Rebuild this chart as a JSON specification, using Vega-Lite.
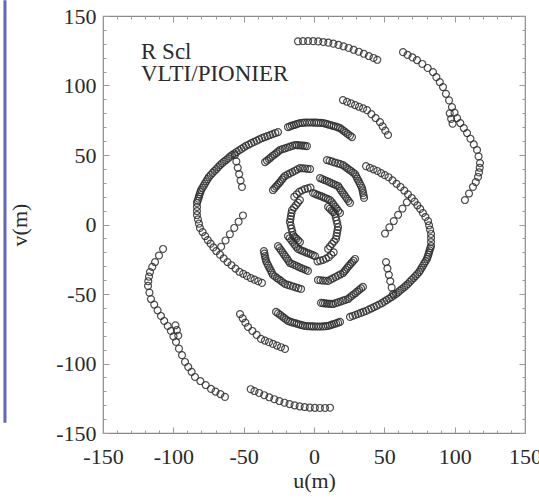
{
  "$schema": "https://vega.github.io/schema/vega-lite/v6.json",
  "width": 422,
  "height": 417,
  "autosize": {"type": "none"},
  "padding": {"left": 103, "top": 16, "right": 14, "bottom": 65},
  "background": "white",
  "title": {"text": ["R Scl", "VLTI/PIONIER"], "anchor": "start", "frame": "group", "orient": "top", "offset": -87, "dx": 38, "font": "Liberation Serif", "fontSize": 23, "fontWeight": "normal", "color": "#2a2a2a", "lineHeight": 22},
  "config": {
    "view": {"stroke": "#8a8a8a", "strokeWidth": 1.2},
    "font": "Liberation Serif",
    "axis": {
      "domain": false, "grid": false,
      "labelFont": "Liberation Serif", "titleFont": "Liberation Serif",
      "labelFontSize": 22, "titleFontSize": 22,
      "labelColor": "#2a2a2a", "titleColor": "#2a2a2a",
      "titleFontWeight": "normal",
      "tickColor": "#9a9a9a", "tickWidth": 1,
      "labelFlush": false, "labelOverlap": false
    }
  },
  "datasets": {
    "uv": [
      {"u":-11.4,"v":131.8},{"u":-7.8,"v":132},{"u":-4.2,"v":132},{"u":-0.6,"v":131.9},{"u":3,"v":131.7},{"u":6.6,"v":131.3},{"u":10.2,"v":130.8},{"u":13.8,"v":130.1},{"u":17.4,"v":129.2},{"u":21,"v":128.2},{"u":24.6,"v":127},{"u":28.2,"v":125.7},{"u":31.8,"v":124.3},{"u":35.4,"v":122.8},{"u":39,"v":121.2},{"u":42.3,"v":119.8},{"u":45,"v":118.5},
      {"u":11.4,"v":-131.8},{"u":7.8,"v":-132},{"u":4.2,"v":-132},{"u":0.6,"v":-131.9},{"u":-3,"v":-131.7},{"u":-6.6,"v":-131.3},{"u":-10.2,"v":-130.8},{"u":-13.8,"v":-130.1},{"u":-17.4,"v":-129.2},{"u":-21,"v":-128.2},{"u":-24.6,"v":-127},{"u":-28.2,"v":-125.7},{"u":-31.8,"v":-124.3},{"u":-35.4,"v":-122.8},{"u":-39,"v":-121.2},{"u":-42.3,"v":-119.8},{"u":-45,"v":-118.5},
      {"u":63.3,"v":124},{"u":66.5,"v":122},{"u":70,"v":120.2},{"u":73.2,"v":118.3},{"u":77,"v":115.5},{"u":80.8,"v":112.6},{"u":84.6,"v":109.7},{"u":87,"v":106},{"u":89.4,"v":102.5},{"u":91.7,"v":98.9},{"u":93.8,"v":94},{"u":96,"v":89.3},{"u":98.1,"v":84.5},{"u":99.9,"v":80.5},{"u":101.7,"v":76.6},{"u":104,"v":73},{"u":106.5,"v":69.4},{"u":108.8,"v":65.8},{"u":111.2,"v":61.7},{"u":113.6,"v":57.6},{"u":115.9,"v":53.6},{"u":117,"v":49},{"u":118,"v":44.2},{"u":117.8,"v":40.8},{"u":117.3,"v":37.5},{"u":116.6,"v":34.2},{"u":115,"v":30.5},{"u":113,"v":27},{"u":110.2,"v":22.3},{"u":107.3,"v":17.6},{"u":96.5,"v":80},{"u":97.5,"v":76},{"u":98.5,"v":72.5},
      {"u":-63.3,"v":-124},{"u":-66.5,"v":-122},{"u":-70,"v":-120.2},{"u":-73.2,"v":-118.3},{"u":-77,"v":-115.5},{"u":-80.8,"v":-112.6},{"u":-84.6,"v":-109.7},{"u":-87,"v":-106},{"u":-89.4,"v":-102.5},{"u":-91.7,"v":-98.9},{"u":-93.8,"v":-94},{"u":-96,"v":-89.3},{"u":-98.1,"v":-84.5},{"u":-99.9,"v":-80.5},{"u":-101.7,"v":-76.6},{"u":-104,"v":-73},{"u":-106.5,"v":-69.4},{"u":-108.8,"v":-65.8},{"u":-111.2,"v":-61.7},{"u":-113.6,"v":-57.6},{"u":-115.9,"v":-53.6},{"u":-117,"v":-49},{"u":-118,"v":-44.2},{"u":-117.8,"v":-40.8},{"u":-117.3,"v":-37.5},{"u":-116.6,"v":-34.2},{"u":-115,"v":-30.5},{"u":-113,"v":-27},{"u":-110.2,"v":-22.3},{"u":-107.3,"v":-17.6},{"u":-96.5,"v":-80},{"u":-97.5,"v":-76},{"u":-98.5,"v":-72.5},
      {"u":-25.6,"v":66.5},{"u":-29.4,"v":65.1},{"u":-33.2,"v":63.6},{"u":-37,"v":62.2},{"u":-40.8,"v":60.3},{"u":-44.5,"v":58.5},{"u":-48.3,"v":56.6},{"u":-51.6,"v":54.4},{"u":-55,"v":52.2},{"u":-58.3,"v":50},{"u":-61.1,"v":47.6},{"u":-64,"v":45.2},{"u":-66.8,"v":42.8},{"u":-69.4,"v":39.9},{"u":-72.1,"v":37.1},{"u":-74.7,"v":34.2},{"u":-76.6,"v":31.1},{"u":-78.4,"v":27.9},{"u":-80.3,"v":24.8},{"u":-81.3,"v":21.7},{"u":-82.2,"v":18.6},{"u":-83.2,"v":15.5},{"u":-83.2,"v":12.6},{"u":-83.2,"v":9.7},{"u":-83.2,"v":6.8},{"u":-82.5,"v":3.7},{"u":-81.8,"v":0.6},{"u":-81.1,"v":-2.5},{"u":-79.2,"v":-5.4},{"u":-77.4,"v":-8.3},{"u":-75.5,"v":-11.2},{"u":-73.5,"v":-13.8},{"u":-71.5,"v":-16.5},{"u":-69.5,"v":-19.1},{"u":-66.8,"v":-21.7},{"u":-64.2,"v":-24.4},{"u":-61.5,"v":-27},{"u":-58.7,"v":-29.3},{"u":-55.8,"v":-31.7},{"u":-53,"v":-34},{"u":-50.3,"v":-35.5},{"u":-47.7,"v":-37},{"u":-45,"v":-38.5},{"u":-42.3,"v":-39.7},{"u":-39.7,"v":-40.8},{"u":-37,"v":-42},
      {"u":-27.5,"v":65.8},{"u":-31.3,"v":64.35},{"u":-35.1,"v":62.9},{"u":-38.9,"v":61.25},{"u":-42.65,"v":59.4},{"u":-46.4,"v":57.55},{"u":-49.95,"v":55.5},{"u":-53.3,"v":53.3},{"u":-56.65,"v":51.1},{"u":-59.7,"v":48.8},{"u":-62.55,"v":46.4},{"u":-65.4,"v":44},{"u":-68.1,"v":41.35},{"u":-70.75,"v":38.5},{"u":-73.4,"v":35.65},{"u":-75.65,"v":32.65},{"u":-77.5,"v":29.5},{"u":-79.35,"v":26.35},{"u":-80.8,"v":23.25},{"u":-81.75,"v":20.15},{"u":-82.7,"v":17.05},
      {"u":25.6,"v":-66.5},{"u":29.4,"v":-65.1},{"u":33.2,"v":-63.6},{"u":37,"v":-62.2},{"u":40.8,"v":-60.3},{"u":44.5,"v":-58.5},{"u":48.3,"v":-56.6},{"u":51.6,"v":-54.4},{"u":55,"v":-52.2},{"u":58.3,"v":-50},{"u":61.1,"v":-47.6},{"u":64,"v":-45.2},{"u":66.8,"v":-42.8},{"u":69.4,"v":-39.9},{"u":72.1,"v":-37.1},{"u":74.7,"v":-34.2},{"u":76.6,"v":-31.1},{"u":78.4,"v":-27.9},{"u":80.3,"v":-24.8},{"u":81.3,"v":-21.7},{"u":82.2,"v":-18.6},{"u":83.2,"v":-15.5},{"u":83.2,"v":-12.6},{"u":83.2,"v":-9.7},{"u":83.2,"v":-6.8},{"u":82.5,"v":-3.7},{"u":81.8,"v":-0.6},{"u":81.1,"v":2.5},{"u":79.2,"v":5.4},{"u":77.4,"v":8.3},{"u":75.5,"v":11.2},{"u":73.5,"v":13.8},{"u":71.5,"v":16.5},{"u":69.5,"v":19.1},{"u":66.8,"v":21.7},{"u":64.2,"v":24.4},{"u":61.5,"v":27},{"u":58.7,"v":29.3},{"u":55.8,"v":31.7},{"u":53,"v":34},{"u":50.3,"v":35.5},{"u":47.7,"v":37},{"u":45,"v":38.5},{"u":42.3,"v":39.7},{"u":39.7,"v":40.8},{"u":37,"v":42},
      {"u":27.5,"v":-65.8},{"u":31.3,"v":-64.35},{"u":35.1,"v":-62.9},{"u":38.9,"v":-61.25},{"u":42.65,"v":-59.4},{"u":46.4,"v":-57.55},{"u":49.95,"v":-55.5},{"u":53.3,"v":-53.3},{"u":56.65,"v":-51.1},{"u":59.7,"v":-48.8},{"u":62.55,"v":-46.4},{"u":65.4,"v":-44},{"u":68.1,"v":-41.35},{"u":70.75,"v":-38.5},{"u":73.4,"v":-35.65},{"u":75.65,"v":-32.65},{"u":77.5,"v":-29.5},{"u":79.35,"v":-26.35},{"u":80.8,"v":-23.25},{"u":81.75,"v":-20.15},{"u":82.7,"v":-17.05},
      {"u":-56.2,"v":50},{"u":-55.2,"v":45.4},{"u":-54.2,"v":40.8},{"u":-53.2,"v":36.2},{"u":-52.2,"v":31.6},{"u":-51.2,"v":27},
      {"u":56.2,"v":-50},{"u":55.2,"v":-45.4},{"u":54.2,"v":-40.8},{"u":53.2,"v":-36.2},{"u":52.2,"v":-31.6},{"u":51.2,"v":-27},
      {"u":-50.5,"v":6.5},{"u":-53.6,"v":2},{"u":-56.7,"v":-2.5},{"u":-59.8,"v":-7},{"u":-62.9,"v":-11.5},{"u":-66,"v":-16},
      {"u":50.5,"v":-6.5},{"u":53.6,"v":-2},{"u":56.7,"v":2.5},{"u":59.8,"v":7},{"u":62.9,"v":11.5},{"u":66,"v":16},
      {"u":20.6,"v":89.5},{"u":23.5,"v":88.3},{"u":26.3,"v":87.1},{"u":29.2,"v":85.9},{"u":32,"v":84.7},{"u":34.9,"v":83.5},{"u":37.7,"v":82.3},{"u":40.8,"v":79.4},{"u":43.8,"v":76.6},{"u":46.9,"v":73.7},{"u":48.8,"v":70.6},{"u":50.7,"v":67.5},{"u":52.6,"v":64.4},
      {"u":-20.6,"v":-89.5},{"u":-23.5,"v":-88.3},{"u":-26.3,"v":-87.1},{"u":-29.2,"v":-85.9},{"u":-32,"v":-84.7},{"u":-34.9,"v":-83.5},{"u":-37.7,"v":-82.3},{"u":-40.8,"v":-79.4},{"u":-43.8,"v":-76.6},{"u":-46.9,"v":-73.7},{"u":-48.8,"v":-70.6},{"u":-50.7,"v":-67.5},{"u":-52.6,"v":-64.4},
      {"u":-18.5,"v":70.1},{"u":-15.7,"v":71.1},{"u":-12.8,"v":72},{"u":-10,"v":73},{"u":-6.6,"v":73.3},{"u":-3.2,"v":73.4},{"u":0.2,"v":73.3},{"u":3.3,"v":73.2},{"u":6.4,"v":73},{"u":9.4,"v":72.2},{"u":12.4,"v":71.3},{"u":15.5,"v":70.4},{"u":18.5,"v":69.4},{"u":21.3,"v":67.2},{"u":24.1,"v":65},{"u":27,"v":62.9},
      {"u":-17.1,"v":70.6},{"u":-14.25,"v":71.55},{"u":-11.4,"v":72.5},{"u":-8.3,"v":73.15},{"u":-4.9,"v":73.35},{"u":-1.5,"v":73.35},{"u":1.75,"v":73.25},{"u":4.85,"v":73.1},{"u":7.9,"v":72.6},{"u":10.9,"v":71.75},{"u":13.95,"v":70.85},{"u":17,"v":69.9},{"u":19.9,"v":68.3},{"u":22.7,"v":66.1},{"u":25.55,"v":63.95},
      {"u":18.5,"v":-70.1},{"u":15.7,"v":-71.1},{"u":12.8,"v":-72},{"u":10,"v":-73},{"u":6.6,"v":-73.3},{"u":3.2,"v":-73.4},{"u":-0.2,"v":-73.3},{"u":-3.3,"v":-73.2},{"u":-6.4,"v":-73},{"u":-9.4,"v":-72.2},{"u":-12.4,"v":-71.3},{"u":-15.5,"v":-70.4},{"u":-18.5,"v":-69.4},{"u":-21.3,"v":-67.2},{"u":-24.1,"v":-65},{"u":-27,"v":-62.9},
      {"u":17.1,"v":-70.6},{"u":14.25,"v":-71.55},{"u":11.4,"v":-72.5},{"u":8.3,"v":-73.15},{"u":4.9,"v":-73.35},{"u":1.5,"v":-73.35},{"u":-1.75,"v":-73.25},{"u":-4.85,"v":-73.1},{"u":-7.9,"v":-72.6},{"u":-10.9,"v":-71.75},{"u":-13.95,"v":-70.85},{"u":-17,"v":-69.9},{"u":-19.9,"v":-68.3},{"u":-22.7,"v":-66.1},{"u":-25.55,"v":-63.95},
      {"u":-34.8,"v":44.9},{"u":-32.1,"v":47.1},{"u":-29.5,"v":49.3},{"u":-26.8,"v":51.4},{"u":-24.2,"v":53.6},{"u":-20.6,"v":54.8},{"u":-17.1,"v":56},{"u":-13.5,"v":57.2},{"u":-10.7,"v":57},{"u":-7.8,"v":56.7},{"u":-5,"v":56.4},
      {"u":-33.45,"v":46},{"u":-30.8,"v":48.2},{"u":-28.15,"v":50.35},{"u":-25.5,"v":52.5},{"u":-22.4,"v":54.2},{"u":-18.85,"v":55.4},{"u":-15.3,"v":56.6},{"u":-12.1,"v":57.1},{"u":-9.25,"v":56.85},{"u":-6.4,"v":56.55},
      {"u":34.8,"v":-44.9},{"u":32.1,"v":-47.1},{"u":29.5,"v":-49.3},{"u":26.8,"v":-51.4},{"u":24.2,"v":-53.6},{"u":20.6,"v":-54.8},{"u":17.1,"v":-56},{"u":13.5,"v":-57.2},{"u":10.7,"v":-57},{"u":7.8,"v":-56.7},{"u":5,"v":-56.4},
      {"u":33.45,"v":-46},{"u":30.8,"v":-48.2},{"u":28.15,"v":-50.35},{"u":25.5,"v":-52.5},{"u":22.4,"v":-54.2},{"u":18.85,"v":-55.4},{"u":15.3,"v":-56.6},{"u":12.1,"v":-57.1},{"u":9.25,"v":-56.85},{"u":6.4,"v":-56.55},
      {"u":-29.2,"v":24.8},{"u":-27,"v":27.3},{"u":-24.8,"v":29.8},{"u":-22.7,"v":32.4},{"u":-20.6,"v":34.9},{"u":-17.1,"v":36.8},{"u":-13.5,"v":38.7},{"u":-10,"v":40.6},{"u":-6.4,"v":40.3},{"u":-2.8,"v":39.9},
      {"u":-28.1,"v":26.05},{"u":-25.9,"v":28.55},{"u":-23.75,"v":31.1},{"u":-21.65,"v":33.65},{"u":-18.85,"v":35.85},{"u":-15.3,"v":37.75},{"u":-11.75,"v":39.65},{"u":-8.2,"v":40.45},{"u":-4.6,"v":40.1},
      {"u":29.2,"v":-24.8},{"u":27,"v":-27.3},{"u":24.8,"v":-29.8},{"u":22.7,"v":-32.4},{"u":20.6,"v":-34.9},{"u":17.1,"v":-36.8},{"u":13.5,"v":-38.7},{"u":10,"v":-40.6},{"u":6.4,"v":-40.3},{"u":2.8,"v":-39.9},
      {"u":28.1,"v":-26.05},{"u":25.9,"v":-28.55},{"u":23.75,"v":-31.1},{"u":21.65,"v":-33.65},{"u":18.85,"v":-35.85},{"u":15.3,"v":-37.75},{"u":11.75,"v":-39.65},{"u":8.2,"v":-40.45},{"u":4.6,"v":-40.1},
      {"u":9.2,"v":46.4},{"u":13,"v":45.2},{"u":16.8,"v":44},{"u":20.6,"v":42.8},{"u":23.5,"v":40.6},{"u":26.3,"v":38.5},{"u":29.2,"v":36.3},{"u":30.8,"v":33},{"u":32.5,"v":29.6},{"u":34.1,"v":26.3},{"u":34.9,"v":22.7},{"u":35.6,"v":19.1},
      {"u":11.1,"v":45.8},{"u":14.9,"v":44.6},{"u":18.7,"v":43.4},{"u":22.05,"v":41.7},{"u":24.9,"v":39.55},{"u":27.75,"v":37.4},{"u":30,"v":34.65},{"u":31.65,"v":31.3},{"u":33.3,"v":27.95},{"u":34.5,"v":24.5},{"u":35.25,"v":20.9},
      {"u":-9.2,"v":-46.4},{"u":-13,"v":-45.2},{"u":-16.8,"v":-44},{"u":-20.6,"v":-42.8},{"u":-23.5,"v":-40.6},{"u":-26.3,"v":-38.5},{"u":-29.2,"v":-36.3},{"u":-30.8,"v":-33},{"u":-32.5,"v":-29.6},{"u":-34.1,"v":-26.3},{"u":-34.9,"v":-22.7},{"u":-35.6,"v":-19.1},
      {"u":-11.1,"v":-45.8},{"u":-14.9,"v":-44.6},{"u":-18.7,"v":-43.4},{"u":-22.05,"v":-41.7},{"u":-24.9,"v":-39.55},{"u":-27.75,"v":-37.4},{"u":-30,"v":-34.65},{"u":-31.65,"v":-31.3},{"u":-33.3,"v":-27.95},{"u":-34.5,"v":-24.5},{"u":-35.25,"v":-20.9},
      {"u":4.3,"v":33.4},{"u":7.5,"v":32},{"u":10.7,"v":30.6},{"u":13.9,"v":29.1},{"u":17.1,"v":27.7},{"u":19.2,"v":24.6},{"u":21.3,"v":21.6},{"u":23.5,"v":18.5},{"u":25.6,"v":15.5},
      {"u":5.9,"v":32.7},{"u":9.1,"v":31.3},{"u":12.3,"v":29.85},{"u":15.5,"v":28.4},{"u":18.15,"v":26.15},{"u":20.25,"v":23.1},{"u":22.4,"v":20.05},{"u":24.55,"v":17},
      {"u":-4.3,"v":-33.4},{"u":-7.5,"v":-32},{"u":-10.7,"v":-30.6},{"u":-13.9,"v":-29.1},{"u":-17.1,"v":-27.7},{"u":-19.2,"v":-24.6},{"u":-21.3,"v":-21.6},{"u":-23.5,"v":-18.5},{"u":-25.6,"v":-15.5},
      {"u":-5.9,"v":-32.7},{"u":-9.1,"v":-31.3},{"u":-12.3,"v":-29.85},{"u":-15.5,"v":-28.4},{"u":-18.15,"v":-26.15},{"u":-20.25,"v":-23.1},{"u":-22.4,"v":-20.05},{"u":-24.55,"v":-17},
      {"u":-0.7,"v":22.7},{"u":2.3,"v":21.4},{"u":5.4,"v":20.2},{"u":8.4,"v":18.9},{"u":11.4,"v":17.6},{"u":13.8,"v":14.5},{"u":16.1,"v":11.4},{"u":18.5,"v":8.3},
      {"u":0.8,"v":22.05},{"u":3.85,"v":20.8},{"u":6.9,"v":19.55},{"u":9.9,"v":18.25},{"u":12.6,"v":16.05},{"u":14.95,"v":12.95},{"u":17.3,"v":9.85},
      {"u":0.7,"v":-22.7},{"u":-2.3,"v":-21.4},{"u":-5.4,"v":-20.2},{"u":-8.4,"v":-18.9},{"u":-11.4,"v":-17.6},{"u":-13.8,"v":-14.5},{"u":-16.1,"v":-11.4},{"u":-18.5,"v":-8.3},
      {"u":-0.8,"v":-22.05},{"u":-3.85,"v":-20.8},{"u":-6.9,"v":-19.55},{"u":-9.9,"v":-18.25},{"u":-12.6,"v":-16.05},{"u":-14.95,"v":-12.95},{"u":-17.3,"v":-9.85},
      {"u":-10,"v":17.6},{"u":-12.8,"v":14},{"u":-15.6,"v":10.4},{"u":-16.4,"v":6.1},{"u":-17.1,"v":1.8},{"u":-16,"v":-2.9},{"u":-14.9,"v":-7.6},{"u":-12.5,"v":-10.1},{"u":-10,"v":-12.6},
      {"u":-11.4,"v":15.8},{"u":-14.2,"v":12.2},{"u":-16,"v":8.25},{"u":-16.75,"v":3.95},{"u":-16.55,"v":-0.55},{"u":-15.45,"v":-5.25},{"u":-13.7,"v":-8.85},{"u":-11.25,"v":-11.35},
      {"u":10,"v":-17.6},{"u":12.8,"v":-14},{"u":15.6,"v":-10.4},{"u":16.4,"v":-6.1},{"u":17.1,"v":-1.8},{"u":16,"v":2.9},{"u":14.9,"v":7.6},{"u":12.5,"v":10.1},{"u":10,"v":12.6},
      {"u":11.4,"v":-15.8},{"u":14.2,"v":-12.2},{"u":16,"v":-8.25},{"u":16.75,"v":-3.95},{"u":16.55,"v":0.55},{"u":15.45,"v":5.25},{"u":13.7,"v":8.85},{"u":11.25,"v":11.35},
      {"u":-14,"v":20},{"u":-10.5,"v":23.5},{"u":-6.5,"v":25.5},{"u":-2.5,"v":26.5},{"u":-12.25,"v":21.75},{"u":-8.5,"v":24.5},{"u":-4.5,"v":26},
      {"u":14,"v":-20},{"u":10.5,"v":-23.5},{"u":6.5,"v":-25.5},{"u":2.5,"v":-26.5},{"u":12.25,"v":-21.75},{"u":8.5,"v":-24.5},{"u":4.5,"v":-26}
    ],
    "anchor": [{"u": 0, "v": 0}]
  },
  "layer": [
    {
      "data": {"name": "uv"},
      "mark": {"type": "point", "shape": "circle", "filled": false, "size": 48, "stroke": "#2e2e2e", "strokeWidth": 1.2, "opacity": 0.85},
      "encoding": {
        "x": {"field": "u", "type": "quantitative", "scale": {"domain": [-150, 150], "nice": false, "zero": false},
              "axis": {"orient": "bottom", "values": [-150, -100, -50, 0, 50, 100, 150], "tickSize": -6, "labelPadding": 19, "title": "u(m)", "titlePadding": 3,
                       "labelExpr": "(datum.value < 0 ? '-' : '') + abs(datum.value)"}},
        "y": {"field": "v", "type": "quantitative", "scale": {"domain": [-150, 150], "nice": false, "zero": false},
              "axis": {"orient": "left", "values": [-150, -100, -50, 0, 50, 100, 150], "tickSize": -6, "labelPadding": 13, "title": "v(m)", "titlePadding": 24,
                       "labelExpr": "(datum.value < 0 ? '-' : '') + abs(datum.value)"}}
      }
    },
    {
      "data": {"name": "anchor"},
      "mark": {"type": "point", "opacity": 0},
      "encoding": {
        "x": {"field": "u", "type": "quantitative", "scale": {"domain": [-150, 150], "nice": false, "zero": false},
              "axis": {"orient": "top", "values": [-150, -100, -50, 0, 50, 100, 150], "tickSize": -6, "labels": false, "title": null}},
        "y": {"field": "v", "type": "quantitative", "scale": {"domain": [-150, 150], "nice": false, "zero": false},
              "axis": {"orient": "right", "values": [-150, -100, -50, 0, 50, 100, 150], "tickSize": -6, "labels": false, "title": null}}
      }
    },
    {
      "data": {"name": "anchor"},
      "mark": {"type": "point", "opacity": 0},
      "encoding": {
        "x": {"field": "u", "type": "quantitative", "scale": {"domain": [-150, 150], "nice": false, "zero": false},
              "axis": {"orient": "bottom", "values": [-140,-130,-120,-110,-90,-80,-70,-60,-40,-30,-20,-10,10,20,30,40,60,70,80,90,110,120,130,140], "tickSize": -3, "labels": false, "title": null}},
        "y": {"field": "v", "type": "quantitative", "scale": {"domain": [-150, 150], "nice": false, "zero": false},
              "axis": {"orient": "left", "values": [-140,-130,-120,-110,-90,-80,-70,-60,-40,-30,-20,-10,10,20,30,40,60,70,80,90,110,120,130,140], "tickSize": -3, "labels": false, "title": null}}
      }
    },
    {
      "data": {"name": "anchor"},
      "mark": {"type": "point", "opacity": 0},
      "encoding": {
        "x": {"field": "u", "type": "quantitative", "scale": {"domain": [-150, 150], "nice": false, "zero": false},
              "axis": {"orient": "top", "values": [-140,-130,-120,-110,-90,-80,-70,-60,-40,-30,-20,-10,10,20,30,40,60,70,80,90,110,120,130,140], "tickSize": -3, "labels": false, "title": null}},
        "y": {"field": "v", "type": "quantitative", "scale": {"domain": [-150, 150], "nice": false, "zero": false},
              "axis": {"orient": "right", "values": [-140,-130,-120,-110,-90,-80,-70,-60,-40,-30,-20,-10,10,20,30,40,60,70,80,90,110,120,130,140], "tickSize": -3, "labels": false, "title": null}}
      }
    },
    {
      "data": {"values": [{}]},
      "mark": {"type": "rule", "color": "#6464bc", "strokeWidth": 3},
      "encoding": {
        "x": {"datum": -219.7, "type": "quantitative", "scale": {"domain": [-150, 150], "nice": false, "zero": false}, "axis": null},
        "y": {"datum": 161.4, "type": "quantitative", "scale": {"domain": [-150, 150], "nice": false, "zero": false}, "axis": null},
        "y2": {"datum": -142.7}
      }
    }
  ],
  "resolve": {"axis": {"x": "independent", "y": "independent"}}
}
